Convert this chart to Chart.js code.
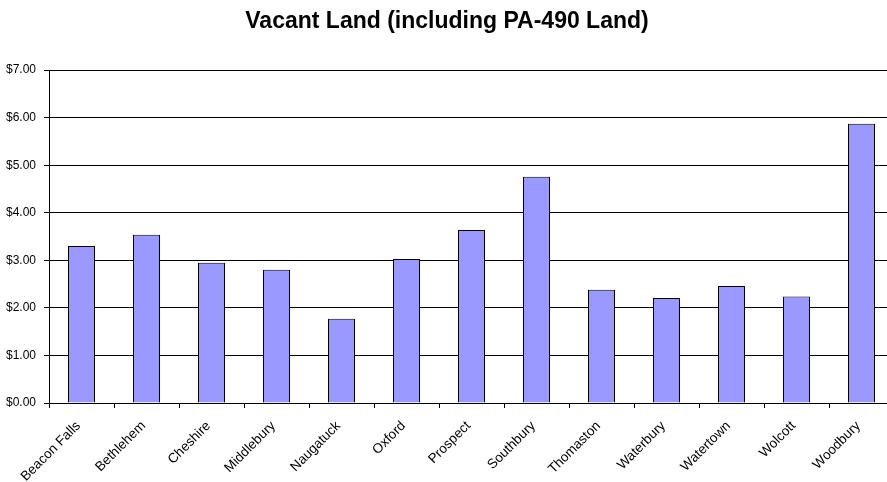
<!DOCTYPE html>
<html>
<head>
<meta charset="utf-8">
<script src="https://cdn.jsdelivr.net/npm/chart.js@4"></script>
<style>
  html, body { margin: 0; padding: 0; background: #fff; overflow: hidden; }
  #wrap { width: 887px; height: 482px; overflow: hidden; }
</style>
</head>
<body>
<div id="wrap"><canvas id="chart" width="894" height="482"></canvas></div>
<script>
const towns = ["Beacon Falls", "Bethlehem", "Cheshire", "Middlebury", "Naugatuck", "Oxford",
  "Prospect", "Southbury", "Thomaston", "Waterbury", "Watertown", "Wolcott", "Woodbury"];
const vacantLand = [3.30, 3.54, 2.95, 2.80, 1.77, 3.03, 3.64, 4.76, 2.38, 2.21, 2.46, 2.24, 5.87];
const yTickLabels = ["$0.00", "$1.00", "$2.00", "$3.00", "$4.00", "$5.00", "$6.00", "$7.00"];

const font = "'Liberation Sans', Arial, sans-serif";

new Chart(document.getElementById("chart"), {
  type: "bar",
  data: {
    labels: towns,
    datasets: [{
      data: vacantLand,
      backgroundColor: "#9999FF",
      borderColor: "#000",
      borderWidth: 1,
      barPercentage: 27 / 65,
      categoryPercentage: 1
    }]
  },
  options: {
    responsive: false,
    animation: false,
    layout: { padding: 0 },
    plugins: {
      legend: { display: false },
      tooltip: { enabled: false },
      title: {
        display: true,
        text: "Vacant Land (including PA-490 Land)",
        color: "#000",
        font: { family: font, size: 23, weight: "bold" },
        padding: { top: 8, bottom: 34.5 }
      }
    },
    scales: {
      x: {
        offset: true,
        border: { color: "#000", width: 1 },
        grid: { drawOnChartArea: false, color: "#000", tickLength: 5, offset: true },
        ticks: {
          color: "#000",
          font: { family: font, size: 13.5 },
          maxRotation: 45,
          minRotation: 45,
          autoSkip: false,
          padding: 10,
          labelOffset: -3
        },
        afterFit: (s) => { s.height = 79; s.paddingLeft = 0; s.paddingRight = 0; }
      },
      y: {
        min: 0,
        max: 7,
        border: { color: "#000", width: 1 },
        grid: { color: "#000", lineWidth: 1, tickLength: 5 },
        ticks: {
          stepSize: 1,
          color: "#000",
          padding: 8,
          font: { family: font, size: 12 },
          callback: (v, i) => yTickLabels[i]
        },
        afterFit: (s) => { s.width = 49; }
      }
    }
  }
});
</script>
</body>
</html>
